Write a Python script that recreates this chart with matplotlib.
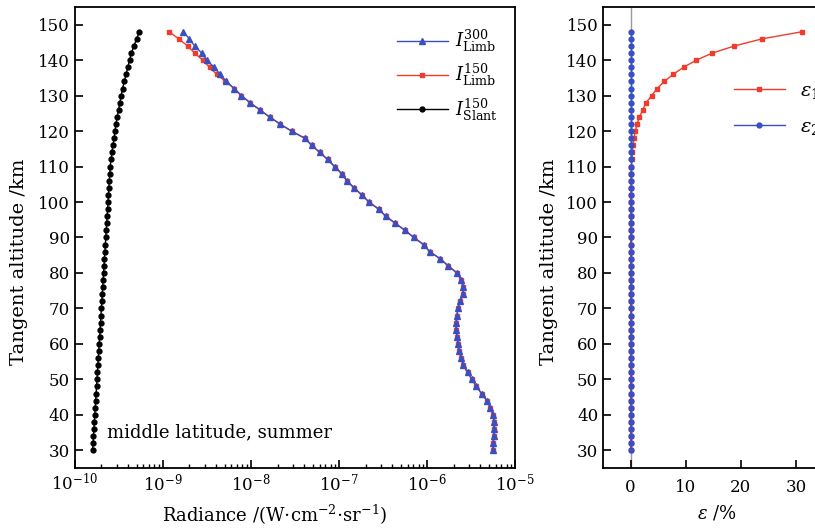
import numpy as np
import matplotlib
matplotlib.use("Agg")
import matplotlib.pyplot as plt

plt.rcParams['font.family'] = ['DejaVu Serif']
plt.rcParams['mathtext.fontset'] = 'dejavuserif'
plt.rcParams['font.size'] = 12

altitude = np.arange(30, 150, 2)  # 30..148 km

# log10 of radiance, from 30 km upward
log_slant = [-9.80, -9.795, -9.79, -9.785, -9.78, -9.775, -9.77, -9.765, -9.76, -9.755,
             -9.75, -9.745, -9.74, -9.735, -9.73, -9.725, -9.72, -9.715, -9.71, -9.705,
             -9.70, -9.695, -9.69, -9.685, -9.68, -9.675, -9.67, -9.665, -9.66, -9.655,
             -9.65, -9.645, -9.64, -9.635, -9.63, -9.625, -9.62, -9.615, -9.61, -9.605,
             -9.60, -9.59, -9.58, -9.57, -9.555, -9.545, -9.535, -9.52, -9.505, -9.49,
             -9.475, -9.46, -9.44, -9.42, -9.40, -9.38, -9.36, -9.33, -9.30, -9.27]
log_limb150 = [-5.25, -5.25, -5.24, -5.24, -5.24, -5.25, -5.28, -5.32, -5.38, -5.44,
               -5.49, -5.54, -5.59, -5.61, -5.64, -5.65, -5.66, -5.67, -5.67, -5.66,
               -5.65, -5.625, -5.59, -5.59, -5.61, -5.66, -5.76, -5.85, -5.97, -6.04,
               -6.15, -6.25, -6.36, -6.47, -6.55, -6.66, -6.74, -6.83, -6.91, -6.97,
               -7.05, -7.13, -7.22, -7.31, -7.39, -7.54, -7.67, -7.79, -7.90, -8.01,
               -8.11, -8.19, -8.29, -8.39, -8.47, -8.55, -8.64, -8.72, -8.82, -8.93]
log_limb300 = [-5.25, -5.25, -5.24, -5.24, -5.24, -5.25, -5.28, -5.32, -5.38, -5.44,
               -5.49, -5.54, -5.59, -5.61, -5.64, -5.65, -5.66, -5.67, -5.67, -5.66,
               -5.65, -5.625, -5.59, -5.59, -5.61, -5.66, -5.76, -5.85, -5.97, -6.04,
               -6.15, -6.25, -6.36, -6.47, -6.55, -6.66, -6.74, -6.83, -6.91, -6.97,
               -7.05, -7.13, -7.22, -7.31, -7.39, -7.54, -7.67, -7.79, -7.90, -8.01,
               -8.11, -8.19, -8.28, -8.35, -8.42, -8.50, -8.56, -8.64, -8.70, -8.77]

# relative errors in percent, from 30 km upward (60 values)
eps1 = [0.0, 0.0, 0.0, 0.0, 0.0, 0.0, 0.0, 0.0, 0.0, 0.0,
        0.0, 0.0, 0.0, 0.0, 0.0, 0.0, 0.0, 0.0, 0.0, 0.0,
        0.0, 0.0, 0.0, 0.0, 0.0, 0.0, 0.0, 0.0, 0.0, 0.0,
        0.0, 0.0, 0.0, 0.01, 0.01, 0.02, 0.03, 0.05, 0.07, 0.1,
        0.15, 0.2, 0.3, 0.45, 0.6, 0.85, 1.15, 1.6, 2.2, 2.8,
        3.8, 4.8, 6.1, 7.7, 9.6, 11.9, 14.8, 18.8, 23.8, 31.0]
eps2 = [0.0] * 60

fig = plt.figure(figsize=(8.15, 5.29), dpi=100)
ax1 = fig.add_axes([0.092, 0.1153, 0.540, 0.8715])
ax2 = fig.add_axes([0.740, 0.1153, 0.2706, 0.8715])

blue = '#3a4fc0'
red = '#f03c2c'

ax1.plot(10 ** np.array(log_limb300), altitude, color=blue, lw=1.0, marker='^', ms=4,
         label=r'$I^{300}_{\rm Limb}$')
ax1.plot(10 ** np.array(log_limb150), altitude, color=red, lw=1.0, marker='s', ms=3,
         label=r'$I^{150}_{\rm Limb}$', zorder=1.9)
ax1.plot(10 ** np.array(log_slant), altitude, color='black', lw=1.0, marker='o', ms=3.5,
         label=r'$I^{150}_{\rm Slant}$')
ax1.set_xscale('log')
ax1.set_xlim(1e-10, 1e-5)
ax1.set_ylim(25, 155)
ax1.set_yticks(np.arange(30, 151, 10))
ax1.set_ylabel('Tangent altitude /km', fontsize=14)
ax1.yaxis.set_label_coords(-0.107, 0.447)
ax1.set_xlabel(r'Radiance /(W$\cdot$cm$^{-2}$$\cdot$sr$^{-1}$)', fontsize=13)
ax1.xaxis.set_label_coords(0.4545, -0.075)
ax1.tick_params(which='major', direction='in', length=6, width=1.2, labelsize=12)
ax1.tick_params(which='minor', direction='in', length=3, width=1.0)
ax1.text(2.3e-10, 35, 'middle latitude, summer', fontsize=13, va='center', ha='left')
ax1.legend(loc='upper right', bbox_to_anchor=(0.997, 0.99), frameon=False, fontsize=13,
           handlelength=2.8, handletextpad=0.4, labelspacing=0.45)

ax2.axvline(0, color='#999999', lw=1.0, zorder=1)
ax2.plot(eps1, altitude, color=red, lw=1.0, marker='s', ms=3, label=r'$\varepsilon_1$', zorder=2)
ax2.plot(eps2, altitude, color=blue, lw=1.0, marker='o', ms=3.5, label=r'$\varepsilon_2$', zorder=3)
ax2.set_xlim(-5, 35)
ax2.set_ylim(25, 155)
ax2.set_xticks([0, 10, 20, 30])
ax2.set_yticks(np.arange(30, 151, 10))
ax2.set_ylabel('Tangent altitude /km', fontsize=14)
ax2.yaxis.set_label_coords(-0.205, 0.447)
ax2.set_xlabel(r'$\varepsilon$ /%', fontsize=13)
ax2.xaxis.set_label_coords(0.517, -0.078)
ax2.tick_params(which='major', direction='in', length=6, width=1.2, labelsize=12)
ax2.tick_params(axis='x', pad=8)
ax2.legend(loc='upper left', bbox_to_anchor=(0.514, 0.875), frameon=False, fontsize=14,
           handlelength=2.6, labelspacing=0.85)

for ax in (ax1, ax2):
    for s in ax.spines.values():
        s.set_linewidth(1.3)

fig.savefig('out.png', dpi=100)
